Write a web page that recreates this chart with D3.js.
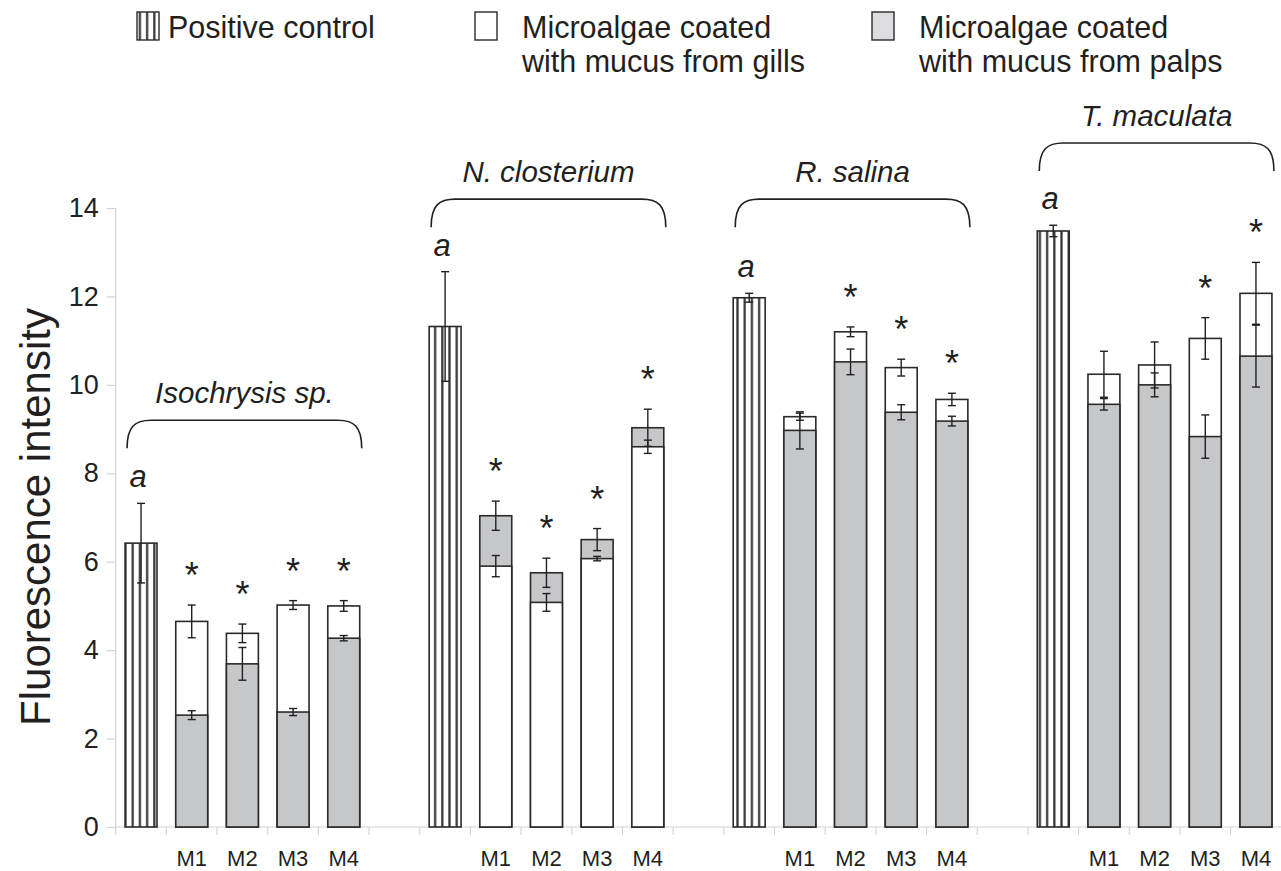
<!DOCTYPE html>
<html>
<head>
<meta charset="utf-8">
<script src="https://cdn.jsdelivr.net/npm/d3@7"></script>
<style>
  body { margin: 0; background: #fff; }
  svg { display: block; font-family: "Liberation Sans", Arial, sans-serif; }
</style>
</head>
<body>
<div id="chart"></div>
<script>
// data
var groups = ['Isochrysis sp.', 'N. closterium', 'R. salina', 'T. maculata'];
var treatments = ['M1', 'M2', 'M3', 'M4'];
var controlMean = [6.42, 11.32, 11.97, 13.48];
var controlErr = [0.9, 1.24, 0.1, 0.13];
var gillsMean = [[4.65, 4.38, 5.02, 5.0], [5.9, 5.08, 6.07, 8.6], [9.28, 11.2, 10.39, 9.67], [10.24, 10.45, 11.05, 12.07]];
var gillsErr = [[0.37, 0.21, 0.1, 0.12], [0.24, 0.2, 0.05, 0.15], [0.08, 0.11, 0.19, 0.14], [0.52, 0.52, 0.47, 0.7]];
var palpsMean = [[2.53, 3.69, 2.6, 4.27], [7.04, 5.75, 6.5, 9.03], [8.97, 10.52, 9.38, 9.18], [9.56, 10.0, 8.83, 10.65]];
var palpsErr = [[0.1, 0.37, 0.08, 0.06], [0.33, 0.33, 0.25, 0.42], [0.42, 0.29, 0.17, 0.11], [0.13, 0.27, 0.49, 0.7]];
var significant = [[1, 1, 1, 1], [1, 1, 1, 1], [0, 1, 1, 1], [0, 0, 1, 1]];
var braceLevel = [9.2, 14.2, 14.2, 15.47];
var yTicks = [0, 2, 4, 6, 8, 10, 12, 14];

var W = 1281, H = 871;
var ink = '#231f20';
var grayFill = '#c6c7c9';

var svg = d3.select('#chart').append('svg').attr('width', W).attr('height', H);

var defs = svg.append('defs');
var pat = defs.append('pattern').attr('id', 'stripes')
  .attr('patternUnits', 'userSpaceOnUse').attr('width', 7.2).attr('height', 10);
pat.append('rect').attr('width', 7.2).attr('height', 10).attr('fill', '#fff');
pat.append('rect').attr('x', 2).attr('width', 2.2).attr('height', 10).attr('fill', '#333');

// categories: control + 4 treatments per group, with an empty slot between groups
var cats = [];
groups.forEach((g, gi) => {
  cats.push(g + '|PC');
  treatments.forEach((t) => cats.push(g + '|' + t));
  if (gi < groups.length - 1) cats.push(g + '|gap');
});

var x = d3.scaleBand().domain(cats).range([115.7, 1281.3]).paddingInner(0.37).paddingOuter(0.185);
var y = d3.scaleLinear().domain([0, 14]).range([827, 208]);

// y axis
var yAxis = svg.append('g').attr('transform', 'translate(115.7,0)')
  .call(d3.axisLeft(y).tickValues(yTicks).tickSize(9).tickPadding(8));
yAxis.select('.domain').attr('stroke', '#d4d4d4').attr('stroke-width', 1.2).attr('d', 'M0,' + y(14) + 'V' + y(0));
yAxis.selectAll('.tick line').attr('stroke', '#d4d4d4').attr('stroke-width', 1.2);
yAxis.selectAll('.tick text').attr('font-size', 27).attr('fill', ink).attr('font-family', '"Liberation Sans", Arial, sans-serif');

// x axis baseline and boundary ticks
svg.append('line').attr('x1', 115.7).attr('x2', W).attr('y1', y(0)).attr('y2', y(0))
  .attr('stroke', '#d4d4d4').attr('stroke-width', 1.2);
svg.append('g').selectAll('line').data(cats).join('line')
  .attr('x1', (d) => x(d) - x.step() * 0.185).attr('x2', (d) => x(d) - x.step() * 0.185)
  .attr('y1', y(0)).attr('y2', y(0) + 8)
  .attr('stroke', '#d4d4d4').attr('stroke-width', 1.2);

// x labels
svg.append('g').selectAll('text').data(cats.filter((c) => /\|M\d$/.test(c))).join('text')
  .attr('x', (d) => x(d) + x.bandwidth() / 2).attr('y', 866)
  .attr('text-anchor', 'middle').attr('font-size', 22).attr('fill', ink)
  .text((d) => d.split('|')[1]);

// y title
svg.append('text').attr('transform', 'translate(50,517) rotate(-90)')
  .attr('text-anchor', 'middle').attr('font-size', 42).attr('fill', ink)
  .text('Fluorescence intensity');

function errBar(g, cx, v, e) {
  g.append('line').attr('x1', cx).attr('x2', cx).attr('y1', y(v + e)).attr('y2', y(v - e))
    .attr('stroke', ink).attr('stroke-width', 1.4);
  [v + e, v - e].forEach((yy) => {
    g.append('line').attr('x1', cx - 4).attr('x2', cx + 4).attr('y1', y(yy)).attr('y2', y(yy))
      .attr('stroke', ink).attr('stroke-width', 1.4);
  });
}

var bars = svg.append('g');
var bw = x.bandwidth();

groups.forEach((g, gi) => {
  // positive control
  var pcx = x(g + '|PC');
  bars.append('rect').attr('x', pcx).attr('y', y(controlMean[gi])).attr('width', bw)
    .attr('height', y(0) - y(controlMean[gi]))
    .attr('fill', 'url(#stripes)').attr('stroke', '#2a2a2a').attr('stroke-width', 1.6);
  errBar(bars, pcx + bw / 2, controlMean[gi], controlErr[gi]);
  bars.append('text').attr('x', pcx + bw / 2 - 3).attr('y', y(controlMean[gi] + controlErr[gi]) - 16)
    .attr('text-anchor', 'middle').attr('font-size', 31).attr('font-style', 'italic').attr('fill', ink)
    .text('a');

  treatments.forEach((t, ti) => {
    var bx = x(g + '|' + t);
    var gv = gillsMean[gi][ti], pv = palpsMean[gi][ti];
    var layers = [
      { v: gv, e: gillsErr[gi][ti], fill: '#fff' },
      { v: pv, e: palpsErr[gi][ti], fill: grayFill }
    ].sort((a, b) => b.v - a.v);
    layers.forEach((l) => {
      bars.append('rect').attr('x', bx).attr('y', y(l.v)).attr('width', bw).attr('height', y(0) - y(l.v))
        .attr('fill', l.fill).attr('stroke', '#2a2a2a').attr('stroke-width', 1.6);
    });
    layers.forEach((l) => errBar(bars, bx + bw / 2, l.v, l.e));
    if (significant[gi][ti]) {
      var top = d3.max(layers, (l) => l.v + l.e);
      bars.append('text').attr('x', bx + bw / 2).attr('y', y(top) - 17)
        .attr('text-anchor', 'middle').attr('font-size', 36).attr('fill', ink).text('*');
    }
  });

  // brace with group name
  var x0 = pcx + 2, x1 = x(g + '|M4') + bw + 2;
  var yt = y(braceLevel[gi]), yb = yt + 28, r = 24;
  bars.append('path')
    .attr('d', 'M' + x0 + ',' + yb + 'C' + x0 + ',' + (yt + 6) + ' ' + (x0 + 8) + ',' + yt + ' ' + (x0 + r) + ',' + yt +
      'L' + (x1 - r) + ',' + yt + 'C' + (x1 - 8) + ',' + yt + ' ' + x1 + ',' + (yt + 6) + ' ' + x1 + ',' + yb)
    .attr('fill', 'none').attr('stroke', ink).attr('stroke-width', 1.6);
  bars.append('text').attr('x', (x0 + x1) / 2).attr('y', yt - 17)
    .attr('text-anchor', 'middle').attr('font-size', 29.5).attr('font-style', 'italic').attr('fill', ink)
    .text(g);
});

// legend
var legend = [
  { fill: 'url(#stripes)', x: 137, lines: ['Positive control'] },
  { fill: '#fff', x: 475, lines: ['Microalgae coated', 'with mucus from gills'] },
  { fill: '#dcdde0', x: 872, lines: ['Microalgae coated', 'with mucus from palps'] }
];
var lg = svg.append('g');
legend.forEach((d) => {
  lg.append('rect').attr('x', d.x).attr('y', 12).attr('width', 22).attr('height', 28)
    .attr('fill', d.fill).attr('stroke', '#2a2a2a').attr('stroke-width', 1.4);
  d.lines.forEach((s, i) => {
    lg.append('text').attr('x', d.x + (d.lines.length > 1 ? 47 : 31)).attr('y', 38 + i * 34)
      .attr('font-size', 30.5).attr('fill', ink).text(s);
  });
});
</script>
</body>
</html>
